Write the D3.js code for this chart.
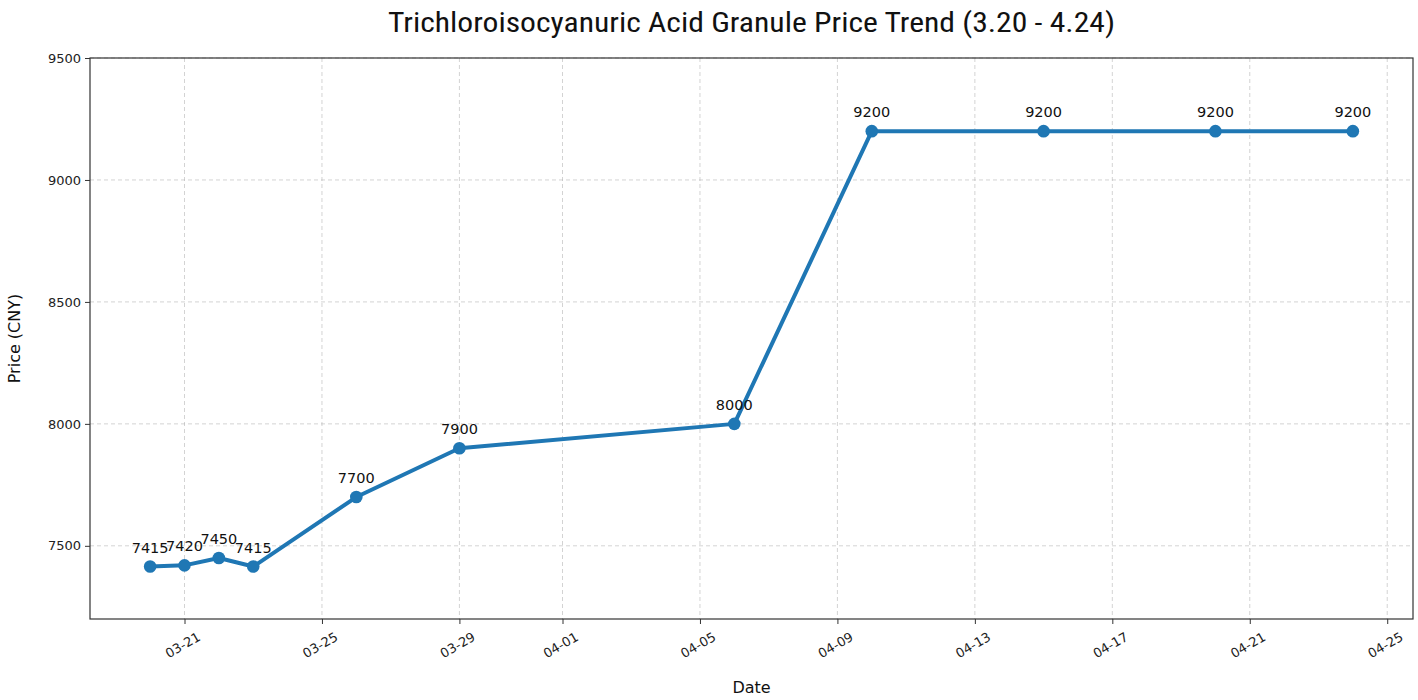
<!DOCTYPE html>
<html><head><meta charset="utf-8">
<script src="https://cdn.jsdelivr.net/npm/d3@7"></script>
<style>body{margin:0;background:#fff}svg{display:block}</style>
</head><body>
<svg id="c" width="1418" height="700"></svg>
<script>
const dates = ["2025-03-20","2025-03-21","2025-03-22","2025-03-23","2025-03-26","2025-03-29","2025-04-06","2025-04-10","2025-04-15","2025-04-20","2025-04-24"];
const prices = [7415,7420,7450,7415,7700,7900,8000,9200,9200,9200,9200];
const yTicks = [7500,8000,8500,9000,9500];
const xTickDates = ["2025-03-21","2025-03-25","2025-03-29","2025-04-01","2025-04-05","2025-04-09","2025-04-13","2025-04-17","2025-04-21","2025-04-25"];
const title = "Trichloroisocyanuric Acid Granule Price Trend (3.20 - 4.24)";

const parse = d3.utcParse("%Y-%m-%d");
const fmt = d3.utcFormat("%m-%d");
const data = dates.map((d,i)=>({date:parse(d), price:prices[i]}));
const L=90,R=1413,T=58,B=619;
const svg = d3.select("#c");
const d0 = data[0].date.getTime(), d1 = data[data.length-1].date.getTime();
const pad = (d1-d0)*0.05;
const x = d3.scaleUtc().domain([new Date(d0-pad), new Date(d1+pad)]).range([L,R]);
const y = d3.scaleLinear().domain([7200,9500]).range([B,T]);
const font = "'DejaVu Sans', sans-serif";

// grid
const g = svg.append("g");
g.selectAll(".gx").data(xTickDates.map(parse)).enter().append("line")
 .attr("x1",d=>x(d)).attr("x2",d=>x(d)).attr("y1",T).attr("y2",B)
 .attr("stroke","#b0b0b0").attr("stroke-opacity",0.7).attr("stroke-dasharray","4,3").attr("stroke-width",0.8);
g.selectAll(".gy").data(yTicks).enter().append("line")
 .attr("x1",L).attr("x2",R).attr("y1",d=>y(d)).attr("y2",d=>y(d))
 .attr("stroke","#b0b0b0").attr("stroke-opacity",0.7).attr("stroke-dasharray","4,3").attr("stroke-width",0.8);

// axes
const xa = svg.append("g").attr("transform",`translate(0,${B})`)
 .call(d3.axisBottom(x).tickValues(xTickDates.map(parse)).tickFormat(fmt).tickSize(5).tickSizeOuter(0));
xa.select(".domain").remove();
xa.selectAll("text").attr("font-family",font).attr("font-size",13).attr("fill","#222")
 .attr("text-anchor","middle").attr("dy",null).attr("y",0)
 .attr("transform","translate(0,30) rotate(-30)");
const ya = svg.append("g").attr("transform",`translate(${L},0)`)
 .call(d3.axisLeft(y).tickValues(yTicks).tickFormat(d3.format("d")).tickSize(5).tickSizeOuter(0));
ya.select(".domain").remove();
ya.selectAll("text").attr("font-family",font).attr("font-size",13).attr("fill","#222").attr("x",-9);
svg.selectAll(".tick line").attr("stroke","#333").attr("stroke-width",1);

svg.append("rect").attr("x",L).attr("y",T).attr("width",R-L).attr("height",B-T)
 .attr("fill","none").attr("stroke","#333").attr("stroke-width",1.2);

// line
const line = d3.line().x(d=>x(d.date)).y(d=>y(d.price));
svg.append("path").datum(data).attr("d",line).attr("fill","none")
 .attr("stroke","#1f77b4").attr("stroke-width",4).attr("stroke-linejoin","round");
svg.selectAll(".pt").data(data).enter().append("circle")
 .attr("cx",d=>x(d.date)).attr("cy",d=>y(d.price)).attr("r",6.3).attr("fill","#1f77b4");
svg.selectAll(".lab").data(data).enter().append("text")
 .attr("x",d=>x(d.date)).attr("y",d=>y(d.price)-14).attr("text-anchor","middle")
 .attr("font-family",font).attr("font-size",14.5).attr("fill","#111").text(d=>d.price);

// labels
svg.append("text").attr("x",(L+R)/2).attr("y",32).attr("text-anchor","middle")
 .attr("font-family","'Liberation Sans Narrow', 'Roboto Condensed', sans-serif").attr("font-size",27).attr("fill","#111")
 .attr("textLength",727).attr("lengthAdjust","spacingAndGlyphs").text(title);
svg.append("text").attr("x",(L+R)/2).attr("y",693).attr("text-anchor","middle")
 .attr("font-family",font).attr("font-size",16).attr("fill","#111").text("Date");
svg.append("text").attr("transform",`translate(20,${(T+B)/2}) rotate(-90)`).attr("text-anchor","middle")
 .attr("font-family",font).attr("font-size",16).attr("fill","#111").text("Price (CNY)");
</script>
</body></html>
